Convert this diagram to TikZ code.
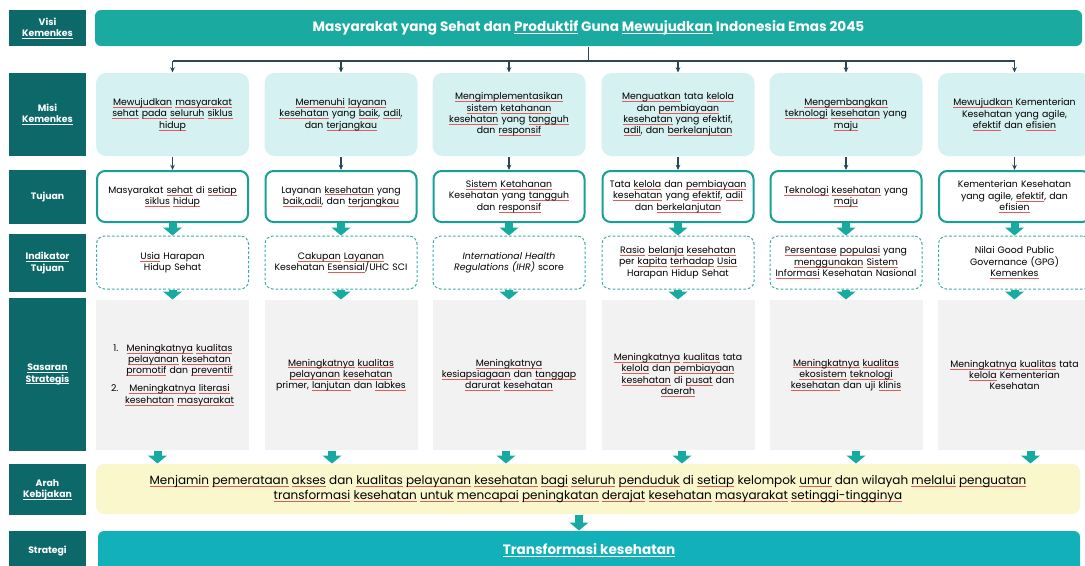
\documentclass[tikz,border=0pt]{standalone}
\usepackage{fontspec}
\setmainfont{Poppins}
\usetikzlibrary{arrows.meta}

\newcommand\boxfont{\fontsize{7}{8.5}\selectfont}
\newsavebox\ulbox
\newcommand\sq[1]{\leavevmode\sbox\ulbox{#1}\rlap{\textcolor[RGB]{226,90,90}{\rule[-1.5pt]{\wd\ulbox}{0.4pt}}}\usebox\ulbox}
\newcommand\wl[1]{\leavevmode\sbox\ulbox{#1}\rlap{\textcolor{white}{\rule[-1.6pt]{\wd\ulbox}{0.6pt}}}\usebox\ulbox}

\tikzset{every picture/.style={line width=0.75pt},
  lbl/.style={fill={rgb, 255:red, 13; green, 105; blue, 105}, text=white, font=\bfseries\fontsize{7}{8.4}\selectfont, minimum width=57.75pt, align=center, inner sep=0pt},
  banner/.style={rounded corners=4.5pt, text=white, font=\bfseries\fontsize{10.2}{12}\selectfont, inner sep=0pt},
  misibox/.style={fill={rgb, 255:red, 214; green, 241; blue, 241}, rounded corners=7.5pt, minimum width=114.75pt, minimum height=62.25pt, text width=110pt, align=center, inner sep=0pt, font=\boxfont},
  tujuanbox/.style={draw={rgb, 255:red, 22; green, 160; blue, 150}, line width=1.5pt, fill=white, rounded corners=6pt, minimum width=113.25pt, minimum height=38.25pt, text width=110pt, align=center, inner sep=0pt, font=\boxfont},
  indikbox/.style={draw={rgb, 255:red, 60; green, 172; blue, 162}, dashed, dash pattern=on 2pt off 1.5pt, rounded corners=6pt, minimum width=114pt, minimum height=39.75pt, text width=110pt, align=center, inner sep=0pt, font=\boxfont},
  sasbox/.style={fill={rgb, 255:red, 242; green, 242; blue, 242}, minimum width=114.75pt, minimum height=112.5pt, text width=110pt, align=center, inner sep=0pt, font=\boxfont},
  conn/.style={draw={rgb, 255:red, 45; green, 70; blue, 85}, line width=1.1pt},
  fat/.style={draw={rgb, 255:red, 22; green, 170; blue, 160}, line width=6pt, -{Triangle[length=6pt,width=14pt]}},
}

\begin{document}
\begin{tikzpicture}[x=0.75pt,y=0.75pt,yscale=-1,xscale=1]
\useasboundingbox (0,0) rectangle (1085,565);
\clip (0,0) rectangle (1085,565);

%Row labels
\node[lbl, minimum height=27pt] (visiL) at (47.5,28) {Visi\\\wl{Kemenkes}};
\node[lbl, minimum height=62.25pt] (misiL) at (47.5,114.5) {Misi\\\wl{Kemenkes}};
\node[lbl, minimum height=40.5pt] (tujuanL) at (47.5,197) {Tujuan};
\node[lbl, minimum height=43.5pt] (indikL) at (47.5,263) {\wl{Indikator}\\Tujuan};
\node[lbl, minimum height=114.75pt] (sasL) at (47.5,374.5) {\wl{Sasaran}\\\wl{Strategis}};
\node[lbl, minimum height=38.25pt] (arahL) at (47.5,489.5) {Arah\\\wl{Kebijakan}};
\node[lbl, minimum height=33pt] (stratL) at (47.5,553) {\raisebox{5.25pt}{Strategi}};

%Visi banner
\node[banner, fill={rgb, 255:red, 26; green, 170; blue, 160}, minimum width=740.25pt, minimum height=27pt] (visi) at (588.5,28) {Masyarakat yang Sehat dan \wl{Produktif} Guna \wl{Mewujudkan} Indonesia Emas 2045};

%Misi
\node[misibox] (m1) at (172.5,114.5) {\sq{Mewujudkan} \sq{masyarakat}\\ \sq{sehat} \sq{pada} \sq{seluruh} \sq{siklus}\\ \sq{hidup}};
\node[misibox] (m2) at (341,114.5) {\sq{Memenuhi} \sq{layanan}\\ \sq{kesehatan} yang \sq{baik}, \sq{adil},\\ dan \sq{terjangkau}};
\node[misibox] (m3) at (509,114.5) {\sq{Mengimplementasikan}\\ \sq{sistem} \sq{ketahanan}\\ \sq{kesehatan} yang \sq{tangguh}\\ dan \sq{responsif}};
\node[misibox] (m4) at (678,114.5) {\sq{Menguatkan} tata \sq{kelola}\\ dan \sq{pembiayaan}\\ \sq{kesehatan} yang efektif,\\ \sq{adil}, dan \sq{berkelanjutan}};
\node[misibox] (m5) at (846,114.5) {\sq{Mengembangkan}\\ \sq{teknologi} \sq{kesehatan} yang\\ \sq{maju}};
\node[misibox] (m6) at (1014.5,114.5) {\sq{Mewujudkan} Kementerian\\ Kesehatan yang agile,\\ \sq{efektif} dan \sq{efisien}};

%Tujuan
\node[tujuanbox] (t1) at (172.5,196.5) {Masyarakat \sq{sehat} di \sq{setiap}\\ \sq{siklus} \sq{hidup}};
\node[tujuanbox] (t2) at (341,196.5) {Layanan \sq{kesehatan} yang\\ \sq{baik,adil}, dan \sq{terjangkau}};
\node[tujuanbox] (t3) at (509,196.5) {\sq{Sistem} \sq{Ketahanan}\\ Kesehatan yang \sq{tangguh}\\ dan \sq{responsif}};
\node[tujuanbox] (t4) at (678,196.5) {Tata \sq{kelola} dan \sq{pembiayaan}\\ \sq{kesehatan} yang \sq{efektif}, \sq{adil}\\ dan \sq{berkelanjutan}};
\node[tujuanbox] (t5) at (846,196.5) {\sq{Teknologi} \sq{kesehatan} yang\\ \sq{maju}};
\node[tujuanbox] (t6) at (1014.5,196.5) {Kementerian Kesehatan\\ yang agile, \sq{efektif}, dan\\ \sq{efisien}};

%Indikator tujuan
\node[indikbox] (i1) at (172.5,262.5) {\sq{Usia} Harapan\\ Hidup Sehat};
\node[indikbox] (i2) at (341,262.5) {\sq{Cakupan} \sq{Layanan}\\ Kesehatan \sq{Esensial}/UHC SCI};
\node[indikbox] (i3) at (509,262.5) {\textit{International Health}\\ \textit{Regulations (IHR)} score};
\node[indikbox] (i4) at (678,262.5) {\sq{Rasio} \sq{belanja} \sq{kesehatan}\\ per \sq{kapita} \sq{terhadap} \sq{Usia}\\ Harapan Hidup Sehat};
\node[indikbox] (i5) at (846,262.5) {\sq{Persentase} \sq{populasi} yang\\ \sq{menggunakan} \sq{Sistem}\\ \sq{Informasi} Kesehatan Nasional};
\node[indikbox] (i6) at (1014.5,262.5) {Nilai Good Public\\ Governance (GPG)\\ \sq{Kemenkes}};

%Sasaran strategis
\node[sasbox] (s1) at (172.5,375) {\begin{tabular}{@{}r@{\hspace{5pt}}c@{}}
  1. & \sq{Meningkatnya} \sq{kualitas}\\
     & \sq{pelayanan} \sq{kesehatan}\\
     & \sq{promotif} dan \sq{preventif}\\[5pt]
  2. & \sq{Meningkatnya} \sq{literasi}\\
     & \sq{kesehatan} \sq{masyarakat}
\end{tabular}};
\node[sasbox] (s2) at (341,375) {\sq{Meningkatnya} \sq{kualitas}\\ \sq{pelayanan} \sq{kesehatan}\\ primer, \sq{lanjutan} dan \sq{labkes}};
\node[sasbox] (s3) at (509,375) {\sq{Meningkatnya}\\ \sq{kesiapsiagaan} dan \sq{tanggap}\\ \sq{darurat} \sq{kesehatan}};
\node[sasbox] (s4) at (678,375) {\sq{Meningkatnya} \sq{kualitas} tata\\ \sq{kelola} dan \sq{pembiayaan}\\ \sq{kesehatan} di \sq{pusat} dan\\ \sq{daerah}};
\node[sasbox] (s5) at (846,375) {\sq{Meningkatnya} \sq{kualitas}\\ \sq{ekosistem} \sq{teknologi}\\ \sq{kesehatan} dan uji \sq{klinis}};
\node[sasbox] (s6) at (1014.5,375) {\sq{Meningkatnya} \sq{kualitas} tata\\ \sq{kelola} Kementerian\\ Kesehatan};

%Arah kebijakan
\node[fill={rgb, 255:red, 250; green, 247; blue, 205}, rounded corners=6pt, minimum width=738pt, minimum height=37.5pt, align=center, inner sep=0pt, font=\fontsize{9}{11}\selectfont] (arah) at (588,489) {\sq{Menjamin} \sq{pemerataan} \sq{akses} dan \sq{kualitas} \sq{pelayanan} \sq{kesehatan} \sq{bagi} \sq{seluruh} \sq{penduduk} di \sq{setiap} kelompok \sq{umur} dan wilayah \sq{melalui} \sq{penguatan}\\ \sq{transformasi} \sq{kesehatan} \sq{untuk} \sq{mencapai} \sq{peningkatan} \sq{derajat} \sq{kesehatan} \sq{masyarakat} \sq{setinggi-tingginya}};

%Strategi banner
\node[banner, fill={rgb, 255:red, 18; green, 176; blue, 184}, minimum width=736.5pt, minimum height=33pt] (strat) at (589,553) {\raisebox{5.25pt}{\wl{Transformasi kesehatan}}};

%Visi to misi
\coordinate (bus) at (588.5,61);
\draw[conn] (visi.south) -- (visi.south |- bus);
\draw[conn] (m1.north |- bus) -- (m6.north |- bus);
\foreach \i in {1,...,6}
  \draw[conn, -{Stealth[length=4pt,width=3.5pt]}] (m\i.north |- bus) -- (m\i.north);

%Misi to tujuan
\foreach \i in {1,...,6}
  \draw[conn, -{Stealth[length=4pt,width=3.5pt]}] (m\i.south) -- (t\i.north);

%Block arrows
\foreach \i in {1,...,6}{
  \draw[fat] (t\i.south) -- (i\i.north);
  \draw[fat] (i\i.south) -- (s\i.north);
}
\foreach \i/\dx in {1/-15,2/-9,3/-3,4/4,5/10,6/16}
  \draw[fat] ([xshift=\dx*0.75pt]s\i.south) -- ([xshift=\dx*0.75pt]s\i.south |- arah.north);
\draw[fat] ([xshift=-6.75pt]arah.south) -- ([xshift=-6.75pt]arah.south |- strat.north);

\end{tikzpicture}
\end{document}
